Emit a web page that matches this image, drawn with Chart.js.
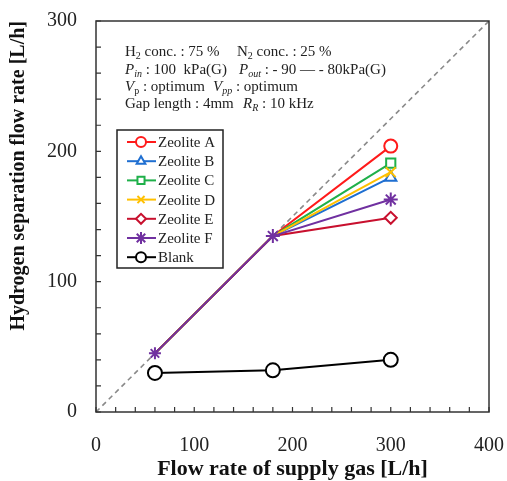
<!DOCTYPE html>
<html>
<head>
<meta charset="utf-8">
<script src="https://cdn.jsdelivr.net/npm/chart.js@4"></script>
<style>
  html, body { margin: 0; padding: 0; background: #fff; }
  #wrap { width: 507px; height: 481px; }
</style>
</head>
<body>
<div id="wrap"><canvas id="grafico"></canvas></div>
<script>
// data
const supplyFlow = [60, 180, 300];
const zeoliteA = [45, 135, 204];
const zeoliteB = [45, 135, 180];
const zeoliteC = [45, 135, 191];
const zeoliteD = [45, 135, 184];
const zeoliteE = [45, 135, 149];
const zeoliteF = [45, 135, 163];
const blank = [30, 32, 40];
// 75 % H2 reference line
const idealX = [0, 400];
const idealY = [0, 300];
const seriesNames = ['Zeolite A', 'Zeolite B', 'Zeolite C', 'Zeolite D', 'Zeolite E', 'Zeolite F', 'Blank'];

const serif = '"Liberation Serif", "DejaVu Serif", serif';

function toPoints(xs, ys) {
    return xs.map((x, i) => ({ x: x, y: ys[i] }));
}

function serie(label, values, color, style, radius, order) {
    return {
        label: label,
        data: toPoints(supplyFlow, values),
        borderColor: color,
        backgroundColor: '#fff',
        pointBackgroundColor: '#fff',
        pointBorderColor: color,
        pointStyle: style,
        pointRadius: radius,
        pointBorderWidth: 2,
        borderWidth: 2,
        tension: 0,
        order: order
    };
}

const datasets = [
    serie(seriesNames[0], zeoliteA, '#ff1a1a', 'circle', [0, 0, 6.5], 6),
    serie(seriesNames[1], zeoliteB, '#1f6fd1', 'triangle', [0, 0, 6.5], 5),
    serie(seriesNames[2], zeoliteC, '#1fb04a', 'rect', [0, 0, 6.5], 4),
    serie(seriesNames[3], zeoliteD, '#ffc000', 'crossRot', [0, 0, 7], 3),
    serie(seriesNames[4], zeoliteE, '#c8102e', 'rectRot', [0, 0, 6], 2),
    serie(seriesNames[5], zeoliteF, '#7030a0', 'star', [6, 7, 7], 1),
    serie(seriesNames[6], blank, '#000', 'circle', [7, 7, 7], 0),
    {
        label: 'ideal',
        data: toPoints(idealX, idealY),
        borderColor: '#8a8a8a',
        borderWidth: 1.6,
        borderDash: [5, 4],
        pointRadius: 0,
        order: 10
    }
];

// moldura, ticks para dentro, legenda e texto de condições
const moldura = {
    id: 'moldura',
    afterDraw(chart) {
        const ctx = chart.ctx;
        const a = chart.chartArea;
        ctx.save();
        ctx.strokeStyle = '#333';
        ctx.lineWidth = 1.5;
        ctx.strokeRect(a.left, a.top, a.right - a.left, a.bottom - a.top);

        ctx.lineWidth = 1.2;
        const xs = chart.scales.x, ys = chart.scales.y;
        ctx.beginPath();
        xs.ticks.forEach(t => {
            const px = xs.getPixelForValue(t.value);
            ctx.moveTo(px, a.bottom);
            ctx.lineTo(px, a.bottom - 5);
        });
        ys.ticks.forEach(t => {
            const py = ys.getPixelForValue(t.value);
            ctx.moveTo(a.left, py);
            ctx.lineTo(a.left + 5, py);
        });
        ctx.stroke();

        // legenda
        const lx = 117, ly = 130, lw = 106, lh = 138;
        ctx.fillStyle = '#fff';
        ctx.fillRect(lx, ly, lw, lh);
        ctx.strokeStyle = '#222';
        ctx.lineWidth = 1.5;
        ctx.strokeRect(lx, ly, lw, lh);
        seriesNames.forEach((name, i) => {
            const ds = chart.data.datasets[i];
            const y = ly + 12 + i * 19.2;
            ctx.strokeStyle = ds.borderColor;
            ctx.lineWidth = 2;
            ctx.beginPath();
            ctx.moveTo(lx + 10, y);
            ctx.lineTo(lx + 39, y);
            ctx.stroke();
            ctx.fillStyle = '#fff';
            Chart.helpers.drawPoint(ctx, {
                pointStyle: ds.pointStyle,
                radius: ds.pointStyle === 'star' ? 6 : 5,
                rotation: 0,
                borderWidth: 2
            }, lx + 24, y);
            ctx.fillStyle = '#222';
            ctx.font = '15px ' + serif;
            ctx.textBaseline = 'alphabetic';
            ctx.textAlign = 'left';
            ctx.fillText(name, lx + 41, y + 5);
        });

        // condições experimentais
        const linhas = [
            { y: 56, runs: [[125, [['H', ''], ['2', 's'], [' conc. : 75 %', '']]], [237, [['N', ''], ['2', 's'], [' conc. : 25 %', '']]]] },
            { y: 74, runs: [[125, [['P', 'i'], ['in', 'si'], [' : 100  kPa(G)', '']]], [239, [['P', 'i'], ['out', 'si'], [' : - 90 \u2014 - 80kPa(G)', '']]]] },
            { y: 91, runs: [[125, [['V', 'i'], ['p', 's'], [' : optimum', '']]], [213, [['V', 'i'], ['pp', 'si'], [' : optimum', '']]]] },
            { y: 108, runs: [[125, [['Gap length : 4mm', '']]], [243, [['R', 'i'], ['R', 'si'], [' : 10 kHz', '']]]] }
        ];
        ctx.fillStyle = '#222';
        linhas.forEach(l => {
            l.runs.forEach(run => {
                let x = run[0];
                run[1].forEach(seg => {
                    const sub = seg[1].includes('s');
                    const it = seg[1].includes('i');
                    ctx.font = (it ? 'italic ' : '') + (sub ? '10px ' : '15px ') + serif;
                    ctx.fillText(seg[0], x, l.y + (sub ? 3 : 0));
                    x += ctx.measureText(seg[0]).width;
                });
            });
        });
        ctx.restore();
    }
};

const ctx = document.getElementById('grafico').getContext('2d');
new Chart(ctx, {
    type: 'line',
    data: { datasets: datasets },
    options: {
        responsive: true,
        maintainAspectRatio: false,
        animation: false,
        layout: { padding: { top: 21, right: 18, left: 0, bottom: 0 } },
        plugins: {
            legend: { display: false },
            tooltip: { enabled: false }
        },
        scales: {
            x: {
                type: 'linear',
                min: 0,
                max: 400,
                afterFit: function (scale) {
                    scale.height = 69;
                    scale.paddingLeft = 0;
                    scale.paddingRight = 0;
                },
                grid: { display: false, drawTicks: false },
                border: { display: false },
                ticks: {
                    stepSize: 20,
                    autoSkip: false,
                    maxRotation: 0,
                    padding: 22,
                    color: '#222',
                    font: { family: serif, size: 20 },
                    callback: v => (v % 100 === 0 ? v : '')
                },
                title: {
                    display: true,
                    text: 'Flow rate of supply gas [L/h]',
                    color: '#111',
                    font: { family: serif, size: 22, weight: 'bold' },
                    padding: { top: 0, bottom: -2 }
                }
            },
            y: {
                min: 0,
                max: 300,
                afterFit: function (scale) {
                    scale.width = 96;
                    scale.paddingTop = 0;
                    scale.paddingBottom = 0;
                },
                grid: { display: false, drawTicks: false },
                border: { display: false },
                ticks: {
                    stepSize: 20,
                    autoSkip: false,
                    padding: 19,
                    color: '#222',
                    font: { family: serif, size: 20 },
                    callback: v => (v % 100 === 0 ? v : '')
                },
                title: {
                    display: true,
                    text: 'Hydrogen separation flow rate [L/h]',
                    align: 'end',
                    color: '#111',
                    font: { family: serif, size: 20, weight: 'bold' },
                    padding: { top: 7, bottom: 0 }
                }
            }
        }
    },
    plugins: [moldura]
});
</script>
</body>
</html>
